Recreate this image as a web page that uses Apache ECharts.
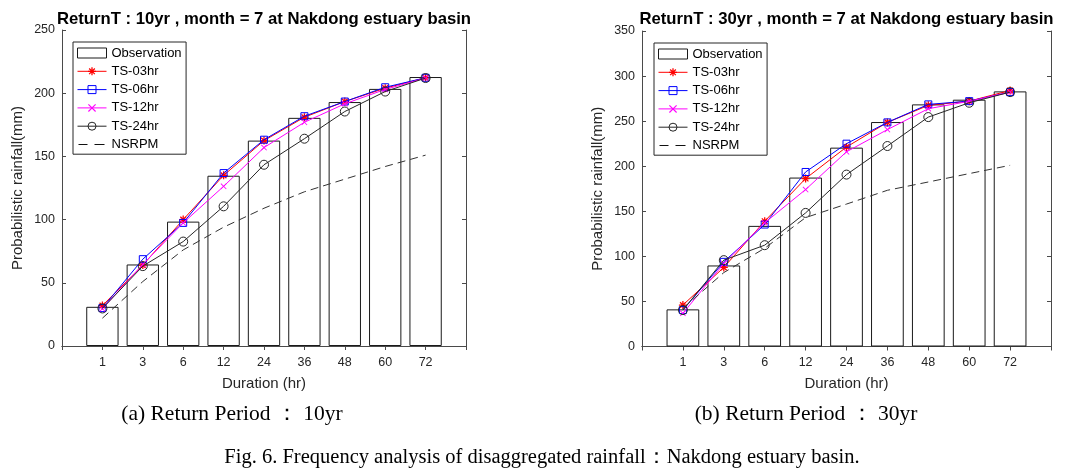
<!DOCTYPE html>
<html>
<head>
<meta charset="utf-8">
<script src="https://cdn.jsdelivr.net/npm/echarts@6/dist/echarts.min.js"></script>
<style>
html,body{margin:0;padding:0;background:#fff;}
#chart{width:1073px;height:476px;}
</style>
</head>
<body>
<div id="chart"></div>
<script>
// ---- data ----
const durations = ['1', '3', '6', '12', '24', '36', '48', '60', '72'];
const yTicks10 = [0, 50, 100, 150, 200, 250];
const yTicks30 = [0, 50, 100, 150, 200, 250, 300, 350];

const obs10   = [31, 64.5, 98.4, 134.7, 162.5, 180.5, 193, 203.4, 212.8];
const ts03_10 = [32, 64, 100, 135, 162.5, 181, 193.4, 204, 212.2];
const ts06_10 = [30, 68.7, 97.4, 136.8, 163.2, 181.8, 193.4, 204.7, 212.2];
const ts12_10 = [29.5, 64.5, 97.4, 126.3, 157, 177, 191.6, 203, 212];
const ts24_10 = [29.7, 63.2, 82.6, 110.5, 143.4, 164, 185.5, 201.3, 212];
const nsrpm10 = [22, 51, 76, 94, 109, 122, 132, 142, 151];

const obs30   = [41.2, 89.9, 133.8, 187.4, 220.6, 249, 268.6, 273.8, 283];
const ts03_30 = [46, 87.7, 139, 186.3, 221.3, 248.6, 267.5, 272.2, 284];
const ts06_30 = [40.4, 93.9, 135.3, 193.6, 225, 248.6, 268.6, 272.2, 282.2];
const ts12_30 = [36.8, 92, 137.2, 174.1, 216, 240.6, 263.8, 272, 282.2];
const ts24_30 = [40.4, 95.8, 112.4, 148.2, 190.7, 222.4, 254.5, 270.4, 282.2];
const nsrpm30 = [42.3, 82, 109, 143, 158, 173.3, 182.5, 191.8, 201];

const titles = ['ReturnT : 10yr , month = 7 at Nakdong estuary basin',
                'ReturnT : 30yr , month = 7 at Nakdong estuary basin'];
const subCaptions = ['(a) Return Period \uFF1A 10yr', '(b) Return Period \uFF1A 30yr'];
const figCaption = 'Fig. 6. Frequency analysis of disaggregated rainfall\uFF1ANakdong estuary basin.';
const seriesNames = ['Observation', 'TS-03hr', 'TS-06hr', 'TS-12hr', 'TS-24hr', 'NSRPM'];

// ---- styling helpers ----
const SANS = '"Liberation Sans", Arial, Helvetica, sans-serif';
const SERIF = '"Liberation Serif", "Times New Roman", serif';
const AX = '#4a4a4a';
const STAR = 'path://M4.2,0L5.8,0L5.8,10L4.2,10Z M0,4.2L10,4.2L10,5.8L0,5.8Z M0.9,2.0L2.0,0.9L9.1,8.0L8.0,9.1Z M8.0,0.9L9.1,2.0L2.0,9.1L0.9,8.0Z';
const XMARK = 'path://M0,1.0L1.0,0L10,9.0L9.0,10Z M9.0,0L10,1.0L1.0,10L0,9.0Z';
const DASHICON = 'path://M0,0L0.01,0L0,0.01Z M29,10L28.99,10L29,9.99Z M1,4.5L10,4.5L10,5.6L1,5.6Z M17,4.5L27,4.5L27,5.6L17,5.6Z';

const cats = [''].concat(durations, ['']);
const pad = a => ['-'].concat(a, ['-']);

function xAxes(gi) {
  const base = {
    type: 'category', gridIndex: gi, data: cats, boundaryGap: false,
    axisLine: {show: true, lineStyle: {color: AX, width: 1}},
    axisTick: {show: true, inside: true, length: 4, interval: 0, lineStyle: {color: AX}},
    splitLine: {show: false}
  };
  return [
    Object.assign({}, base, {
      position: 'bottom',
      axisLabel: {interval: 0, margin: 10, fontSize: 12.5, color: '#262626', fontFamily: SANS},
      name: 'Duration (hr)', nameLocation: 'middle', nameGap: 30,
      nameTextStyle: {fontSize: 15, color: '#262626', fontFamily: SANS}
    }),
    Object.assign({}, base, {position: 'top', axisLabel: {show: false}})
  ];
}
function yAxes(gi, ticks) {
  const base = {
    type: 'value', gridIndex: gi, min: ticks[0], max: ticks[ticks.length - 1],
    interval: ticks[1] - ticks[0],
    axisLine: {show: true, lineStyle: {color: AX, width: 1}},
    axisTick: {show: true, inside: true, length: 4, lineStyle: {color: AX}},
    splitLine: {show: false}
  };
  return [
    Object.assign({}, base, {
      position: 'left',
      axisLabel: {margin: 7, fontSize: 12.5, color: '#262626', fontFamily: SANS},
      name: 'Probabilistic rainfall(mm)', nameLocation: 'middle', nameGap: 37,
      nameTextStyle: {fontSize: 15, color: '#262626', fontFamily: SANS}
    }),
    Object.assign({}, base, {position: 'right', axisLabel: {show: false}})
  ];
}
function seriesFor(ai, obs, t03, t06, t12, t24, ns) {
  const common = {xAxisIndex: ai, yAxisIndex: ai, animation: false, silent: true};
  return [
    Object.assign({type: 'bar', name: seriesNames[0], data: pad(obs), barWidth: '80%',
      itemStyle: {color: '#ffffff', borderColor: '#1a1a1a', borderWidth: 1}, z: 1}, common),
    Object.assign({type: 'line', name: seriesNames[1], data: pad(t03), symbol: STAR, symbolSize: 8,
      lineStyle: {color: '#ff0000', width: 1}, itemStyle: {color: '#ff0000'}, z: 3}, common),
    Object.assign({type: 'line', name: seriesNames[2], data: pad(t06), symbol: 'rect', symbolSize: 7,
      lineStyle: {color: '#0000ff', width: 1},
      itemStyle: {color: 'rgba(0,0,0,0)', borderColor: '#0000ff', borderWidth: 1}, z: 4}, common),
    Object.assign({type: 'line', name: seriesNames[3], data: pad(t12), symbol: XMARK, symbolSize: 6,
      lineStyle: {color: '#ff00ff', width: 1}, itemStyle: {color: '#ff00ff'}, z: 5}, common),
    Object.assign({type: 'line', name: seriesNames[4], data: pad(t24), symbol: 'circle', symbolSize: 9,
      lineStyle: {color: '#262626', width: 1},
      itemStyle: {color: 'rgba(0,0,0,0)', borderColor: '#262626', borderWidth: 1}, z: 6}, common),
    Object.assign({type: 'line', name: seriesNames[5], data: pad(ns), symbol: 'none',
      lineStyle: {color: '#333333', width: 1, type: [8, 5]}, itemStyle: {color: '#333333'}, z: 7}, common)
  ];
}
function legendFor(left, top) {
  return {
    orient: 'vertical', left: left, top: top,
    data: seriesNames.map((n, i) => {
      if (i === 0) return {name: n, icon: 'rect'};
      if (i === 5) return {name: n, icon: DASHICON, itemStyle: {color: '#111', borderWidth: 0}};
      return n;
    }),
    itemWidth: 29, itemHeight: 10, itemGap: 5.3, itemTextGap: 2,
    lineStyle: {width: 1}, itemStyle: {borderWidth: 1},
    padding: [4.5, 4.5, 3.2, 4], borderColor: '#262626', borderWidth: 1, backgroundColor: '#fff',
    textStyle: {fontSize: 13, color: '#000', fontFamily: SANS}, selectedMode: false
  };
}
function txt(x, y, text, font) {
  return {type: 'text', x: x, y: y, silent: true,
    style: {text: text, font: font, fill: '#000', align: 'center', verticalAlign: 'middle',
            textAlign: 'center', textVerticalAlign: 'middle'}};
}

const chart = echarts.init(document.getElementById('chart'), null, {renderer: 'canvas'});
chart.setOption({
  backgroundColor: '#fff',
  animation: false,
  grid: [
    {left: 62, top: 30, width: 404, height: 316, outerBoundsMode: 'none', containLabel: false},
    {left: 642, top: 31, width: 409, height: 315.5, outerBoundsMode: 'none', containLabel: false}
  ],
  xAxis: xAxes(0).concat(xAxes(1)),
  yAxis: yAxes(0, yTicks10).concat(yAxes(1, yTicks30)),
  legend: [legendFor(73, 42), legendFor(654, 43)],
  series: seriesFor(0, obs10, ts03_10, ts06_10, ts12_10, ts24_10, nsrpm10)
    .concat(seriesFor(2, obs30, ts03_30, ts06_30, ts12_30, ts24_30, nsrpm30)),
  graphic: [
    txt(264, 19, titles[0], 'bold 16.7px ' + SANS),
    txt(846.5, 19, titles[1], 'bold 16.7px ' + SANS),
    txt(232, 414, subCaptions[0], '21.5px ' + SERIF),
    txt(806, 414, subCaptions[1], '21.5px ' + SERIF),
    txt(542, 458, figCaption, '20.5px ' + SERIF)
  ]
});
</script>
</body>
</html>
